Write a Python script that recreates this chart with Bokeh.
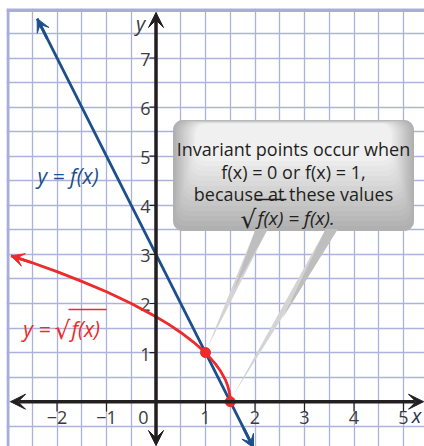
from bokeh.plotting import figure
from bokeh.models import Range1d, FixedTicker, Arrow, VeeHead
from bokeh.core.properties import value
from bokeh.embed import file_html
from bokeh.resources import INLINE

# ---- data ----
line_x = [-2.40, 0.0, 1.0, 1.5, 1.97]          # y = f(x)
line_y = [7.80, 3.0, 1.0, 0.0, -0.94]
curve_x = [-2.93, -2.5, -2.0, -1.5, -1.0, -0.5, 0.0, 0.25, 0.5, 0.75, 1.0,
           1.2, 1.3, 1.4, 1.45, 1.48, 1.495, 1.5]  # y = sqrt(f(x))
curve_y = [2.97, 2.83, 2.65, 2.45, 2.24, 2.00, 1.73, 1.58, 1.41, 1.22, 1.00,
           0.77, 0.63, 0.45, 0.32, 0.20, 0.10, 0.0]
inv_x = [1.0, 1.5]
inv_y = [1.0, 0.0]
x_ticks = [-2, -1, 0, 1, 2, 3, 4, 5]
x_tick_labels = ["\u22122", "\u22121", "0", "1", "2", "3", "4", "5"]
y_ticks = [1, 2, 3, 4, 5, 6, 7]
y_tick_labels = ["1", "2", "3", "4", "5", "6", "7"]
callout_lines = ["Invariant points occur when",
                 "f(x) = 0 or f(x) = 1,",
                 "because at these values"]
callout_last = ["\u221a", "f(x) = f(x)."]

# ---- layout helpers (picture pixels -> data) ----
W, H = 424, 446
XS, YS = 49.5, 49.1
OX, OY = 155.5, 401.2      # pixel position of the origin
LB, TB = 6, 8              # white margin left / top of the grid


def px2x(px):
    return (px - OX) / XS


def py2y(py):
    return (OY - py) / YS


FONT = value("Open Sans")
ROOT = value("DejaVu Sans")
GRID = "#adb2dc"
AX = "#231f20"
BLUE = "#1d4f8c"
RED = "#ee2a2a"
LAB = "#3b3b3b"

p = figure(width=W, height=H, x_range=Range1d(px2x(LB), px2x(W)),
           y_range=Range1d(py2y(H), py2y(TB)), output_backend="svg",
           toolbar_location=None, min_border=0, min_border_left=LB,
           min_border_top=TB, x_axis_location=None, y_axis_location=None)
p.outline_line_color = None
p.background_fill_color = "white"
p.border_fill_color = "white"

p.xgrid.ticker = FixedTicker(ticks=[-3 + 0.5 * i for i in range(19)])
p.ygrid.ticker = FixedTicker(ticks=[-1 + 0.5 * i for i in range(20)])
for g in (p.xgrid, p.ygrid):
    g.grid_line_color = GRID
    g.grid_line_width = 1.3

# frame border (left and top)
p.line([px2x(7.5), px2x(7.5)], [py2y(9), py2y(H)], line_color="#a8aed9", line_width=3)
p.line([px2x(6), px2x(W)], [py2y(10), py2y(10)], line_color="#a8aed9", line_width=3)

# ---- callout box with pseudo gradient ----
L, R, T, B = 173, 413, 120, 230
N = 14
c0, c1 = (176, 176, 176), (240, 240, 240)
qs = dict(left=[], right=[], top=[], bottom=[], color=[])
for i in range(N + 1):
    t = i / N
    qs["left"].append(px2x(L + 1.6 * i))
    qs["right"].append(px2x(R - 1.6 * i))
    qs["top"].append(py2y(T + 0.25 * i))
    qs["bottom"].append(py2y(B - 5.0 * i))
    c = tuple(int(c0[k] + (c1[k] - c0[k]) * t) for k in range(3))
    qs["color"].append("#%02x%02x%02x" % c)
p.quad(left="left", right="right", top="top", bottom="bottom", color="color",
       source=qs, border_radius=9)

# pointer wedges
wx = [[px2x(255), px2x(267), px2x(207)], [px2x(325), px2x(337), px2x(232)]]
wy = [[py2y(229), py2y(229), py2y(347)], [py2y(229), py2y(229), py2y(396)]]
p.patches(wx, wy, fill_color="#d4d4d4", line_color=None)
wx2 = [[px2x(255), px2x(267), px2x(233)], [px2x(325), px2x(337), px2x(282)]]
wy2 = [[py2y(229), py2y(229), py2y(290)], [py2y(229), py2y(229), py2y(318)]]
p.patches(wx2, wy2, fill_color="#bebebe", line_color=None)

# callout text
for txt, base in zip(callout_lines, [148, 171, 193]):
    p.text(x=[px2x(293)], y=[py2y(base)], text=[txt], text_align="center",
           text_baseline="alphabetic", text_font=FONT, text_font_size="18px",
           text_color=AX)
p.text(x=[px2x(256)], y=[py2y(219)], text=[callout_last[0]], text_align="right",
       text_baseline="alphabetic", text_font=ROOT, text_font_size="25px", text_color=AX)
p.text(x=[px2x(257)], y=[py2y(217)], text=[callout_last[1]], text_align="left",
       text_baseline="alphabetic", text_font=FONT, text_font_size="19px",
       text_font_style="italic", text_color=AX)
p.line([px2x(254), px2x(286)], [py2y(199), py2y(199)], line_color=AX, line_width=1.4)

# ---- axes ----
p.add_layout(Arrow(start=VeeHead(size=15, fill_color=AX, line_color=AX),
                   end=VeeHead(size=15, fill_color=AX, line_color=AX),
                   x_start=px2x(10), y_start=0, x_end=px2x(423), y_end=0,
                   line_color=AX, line_width=3.5))
p.add_layout(Arrow(start=VeeHead(size=15, fill_color=AX, line_color=AX),
                   end=VeeHead(size=15, fill_color=AX, line_color=AX),
                   x_start=0, y_start=py2y(445), x_end=0, y_end=py2y(12),
                   line_color=AX, line_width=3.5))
p.segment(x0=x_ticks, y0=[0] * len(x_ticks), x1=x_ticks,
          y1=[py2y(411)] * len(x_ticks), line_color=AX, line_width=1.2)
p.segment(x0=[px2x(149)] * len(y_ticks), y0=y_ticks, x1=[0] * len(y_ticks),
          y1=y_ticks, line_color=AX, line_width=1.2)
xl = [t if t != 0 else px2x(143) for t in x_ticks]
p.text(x=xl, y=[py2y(417)] * len(x_ticks), text=x_tick_labels, text_align="center",
       text_baseline="middle", text_font=FONT, text_font_size="18px", text_color=LAB)
p.text(x=[px2x(150)] * len(y_ticks), y=[t - 0.03 for t in y_ticks], text=y_tick_labels,
       text_align="right", text_baseline="middle", text_font=FONT,
       text_font_size="18px", text_color=LAB)
p.text(x=[px2x(140)], y=[py2y(23)], text=["y"], text_align="center", text_baseline="middle",
       text_font=FONT, text_font_size="20px", text_font_style="italic", text_color=LAB)
p.text(x=[px2x(416)], y=[py2y(415)], text=["x"], text_align="center", text_baseline="middle",
       text_font=FONT, text_font_size="20px", text_font_style="italic", text_color="#2a3550")

# ---- functions ----
p.line(line_x, line_y, line_color=BLUE, line_width=2.8)
p.add_layout(Arrow(end=VeeHead(size=13, fill_color=BLUE, line_color=BLUE),
                   x_start=line_x[0] + 0.2, y_start=line_y[0] - 0.4,
                   x_end=line_x[0], y_end=line_y[0], line_color=BLUE, line_width=2.8))
p.add_layout(Arrow(end=VeeHead(size=13, fill_color=BLUE, line_color=BLUE),
                   x_start=line_x[-1] - 0.2, y_start=line_y[-1] + 0.4,
                   x_end=line_x[-1], y_end=line_y[-1], line_color=BLUE, line_width=2.8))
p.line(curve_x, curve_y, line_color=RED, line_width=2.8)
p.add_layout(Arrow(end=VeeHead(size=13, fill_color=RED, line_color=RED),
                   x_start=curve_x[1], y_start=curve_y[1],
                   x_end=curve_x[0], y_end=curve_y[0], line_color=RED, line_width=2.8))
p.scatter(inv_x, inv_y, size=10, fill_color=RED, line_color=RED)

# labels
p.text(x=[px2x(37)], y=[py2y(175)], text=["y = f(x)"], text_align="left",
       text_baseline="alphabetic", text_font=FONT, text_font_size="21px",
       text_font_style="italic", text_color=BLUE)
p.text(x=[px2x(50)], y=[py2y(328)], text=["y ="], text_align="right",
       text_baseline="alphabetic", text_font=FONT, text_font_size="21px",
       text_font_style="italic", text_color=RED)
p.text(x=[px2x(70)], y=[py2y(330)], text=["\u221a"], text_align="right",
       text_baseline="alphabetic", text_font=ROOT, text_font_size="25px",
       text_color=RED)
p.text(x=[px2x(71)], y=[py2y(328)], text=["f(x)"], text_align="left",
       text_baseline="alphabetic", text_font=FONT, text_font_size="21px",
       text_font_style="italic", text_color=RED)
p.line([px2x(68), px2x(106)], [py2y(309), py2y(309)], line_color=RED, line_width=1.4)

open("out.html", "w").write(file_html(p, INLINE))
